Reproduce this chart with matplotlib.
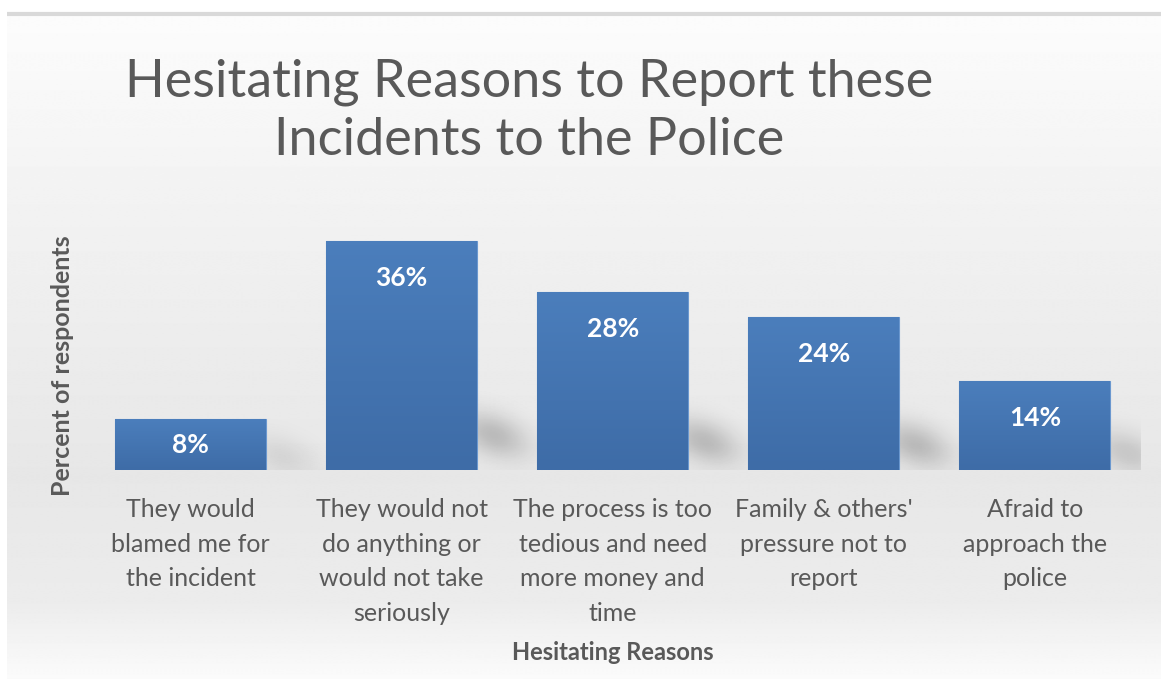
import numpy as np
import matplotlib.pyplot as plt
from matplotlib.colors import LinearSegmentedColormap

plt.rcParams['font.family'] = ['Lato', 'DejaVu Sans']

reasons = [
    "They would\nblamed me for\nthe incident",
    "They would not\ndo anything or\nwould not take\nseriously",
    "The process is too\ntedious and need\nmore money and\ntime",
    "Family & others'\npressure not to\nreport",
    "Afraid to\napproach the\npolice",
]
percent = [8, 36, 28, 24, 14]

title = "Hesitating Reasons to Report these\nIncidents to the Police"
xlabel = "Hesitating Reasons"
ylabel = "Percent of respondents"

W, H = 1161, 679
fig = plt.figure(figsize=(W / 100, H / 100), dpi=100)
fig.patch.set_facecolor('white')

# chart area background: soft vertical gray gradient under a thin gray rule
bg = fig.add_axes([0, 0, 1, 1])
bg.set_xlim(0, W)
bg.set_ylim(H, 0)
bg.axis('off')
ys = np.arange(H)
stops_y = [15, 200, 470, 600, 679]
stops_v = [0.985, 0.948, 0.905, 0.925, 0.985]
col = np.interp(ys, stops_y, stops_v)
grad = np.repeat(col[:, None], 2, axis=1)
bg.imshow(grad, cmap='gray', vmin=0, vmax=1, aspect='auto',
          extent=(7, W, H, 15), interpolation='bilinear')
bg.plot([7, W], [14, 14], color='#d9d9d9', lw=3, solid_capstyle='butt')

left, right, base, top = 85, 1140.5, 470, 215.6
ax = fig.add_axes([left / W, (H - base) / H, (right - left) / W, (base - top) / H])
ax.set_facecolor('none')
ax.set_xlim(-0.5, len(percent) - 0.5)
ax.set_ylim(0, 40)

x = np.arange(len(percent))
bw = 0.715

# soft blurred shadow at the lower right of every bar
sx, sy = (right - left) / len(percent), (base - top) / 40
for xi, v in zip(x, percent):
    xr = xi + bw / 2
    gx = np.linspace(xr - 0.3, xr + 0.55, 200)
    gy = np.linspace(0, 16, 140)
    X, Y = np.meshgrid(gx, gy)
    dx, dy = (X - xr) * sx, Y * sy
    cy = 10 + 0.8 * v
    alpha = 0.2 * min(1.0, v / 20) * np.exp(-((dx - 16) / 24) ** 2 / 2
                                            - ((dy - cy + 0.25 * dx) / 15) ** 2 / 2)
    img = np.zeros(X.shape + (4,))
    img[..., 3] = alpha
    ax.imshow(img, extent=(gx[0], gx[-1], gy[0], gy[-1]), origin='lower',
              aspect='auto', interpolation='bilinear', zorder=1)

bars = ax.bar(x, percent, width=bw, color='#4675b2', edgecolor='#6b98cf',
              linewidth=0.8, zorder=2)

bar_cmap = LinearSegmentedColormap.from_list('bar', ['#3e6ca7', '#4b7ebc'])
for b in bars:
    x0, w, h = b.get_x(), b.get_width(), b.get_height()
    g = np.linspace(0, 1, 64)[:, None]
    im = ax.imshow(g, cmap=bar_cmap, extent=(x0, x0 + w, 0, h), origin='lower',
                   aspect='auto', zorder=3)
    im.set_clip_path(b)

for xi, v in zip(x, percent):
    ax.text(xi, max(v - 5.8, v / 2), f"{v}%", ha='center', va='center',
            color='white', fontsize=19, fontweight='bold', zorder=4)

for s in ax.spines.values():
    s.set_visible(False)
ax.set_yticks([])
ax.set_xticks(x)
ax.set_xticklabels(reasons, fontsize=18, color='#595959', linespacing=1.62)
ax.tick_params(axis='x', length=0, pad=20)

ax.set_xlabel(xlabel, fontsize=17, fontweight='bold', color='#595959')
ax.xaxis.set_label_coords(0.5, (base - 641) / (base - top), transform=ax.transAxes)
ax.set_ylabel(ylabel, fontsize=18, fontweight='bold', color='#595959')
ax.yaxis.set_label_coords((74 - left) / (right - left), (base - 366) / (base - top))

fig.text(529 / W, 1 - 111 / H, title, ha='center', va='center', fontsize=37.5,
         color='#595959', linespacing=1.28)

fig.savefig('out.png', dpi=100)
